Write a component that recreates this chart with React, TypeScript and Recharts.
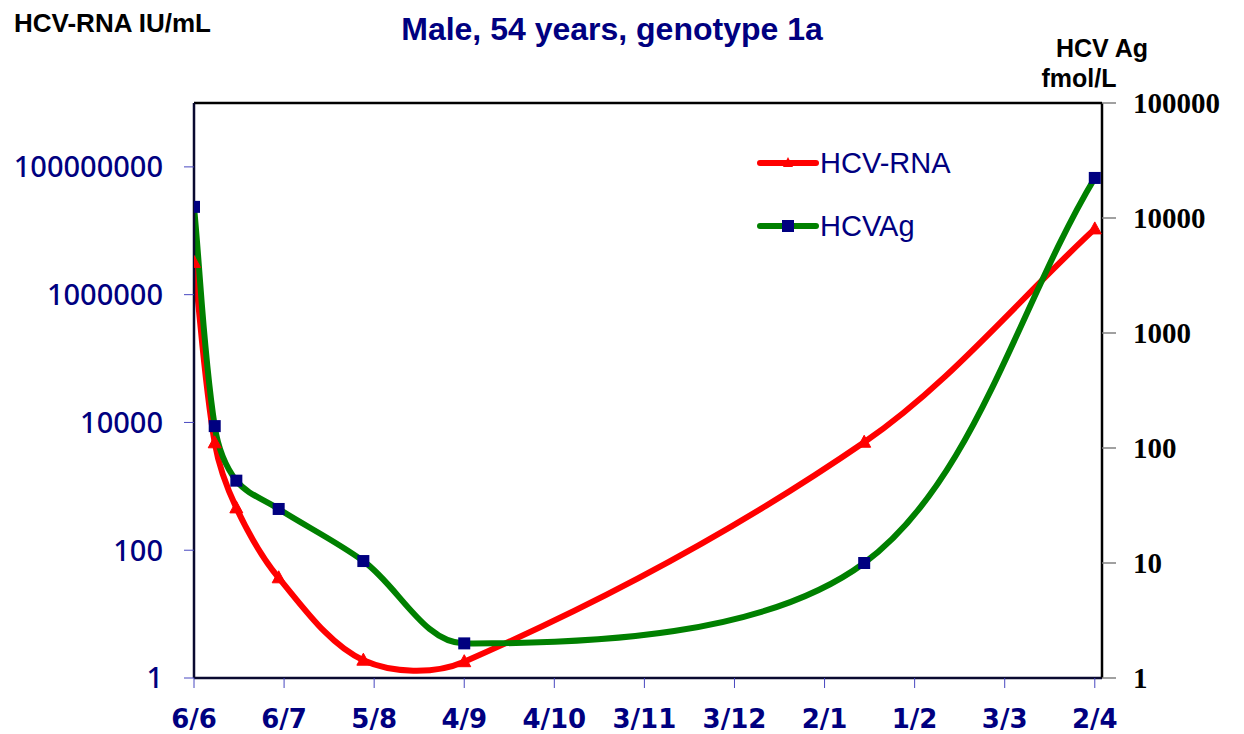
import React from 'react';
import { LineChart, Line, XAxis, YAxis, Legend, ReferenceLine } from 'recharts';

const xLabels = ['6/6', '6/7', '5/8', '4/9', '4/10', '3/11', '3/12', '2/1', '1/2', '3/3', '2/4'];
const xTicks = [0, 1, 2, 3, 4, 5, 6, 7, 8, 9, 10];
const sampleX = [0, 0.23, 0.47, 0.94, 1.88, 3, 7.44, 10];
const rnaValues = [3200000, 4800, 460, 37, 1.9, 1.8, 4900, 10700000];
const agValues = [12500, 155, 52, 29.5, 10.4, 2.0, 10, 22300];
const leftTicks = [1, 100, 10000, 1000000, 100000000];
const rightTicks = [1, 10, 100, 1000, 10000, 100000];

const data = sampleX.map((x, i) => ({ x, rna: rnaValues[i], ag: agValues[i] }));

const NAVY = '#000080';
const RED = '#ff0000';
const GREEN = '#008000';

// Excel-like smoothed curve (chord-length weighted Catmull-Rom Bezier)
const excelCurve: any = (context: any) => {
  let pts: number[][] = [];
  return {
    areaStart() {},
    areaEnd() {},
    lineStart() {
      pts = [];
    },
    point(x: number, y: number) {
      pts.push([+x, +y]);
    },
    lineEnd() {
      const n = pts.length;
      if (n === 0) return;
      context.moveTo(pts[0][0], pts[0][1]);
      if (n === 1) return;
      const d = (a: number[], b: number[]) => Math.hypot(b[0] - a[0], b[1] - a[1]);
      for (let i = 0; i < n - 1; i++) {
        const p0 = pts[Math.max(i - 1, 0)];
        const p1 = pts[i];
        const p2 = pts[i + 1];
        const p3 = pts[Math.min(i + 2, n - 1)];
        const d01 = d(p0, p1);
        const d12 = d(p1, p2);
        const d23 = d(p2, p3);
        const f1 = d01 + d12 > 0 ? d12 / (d01 + d12) / 3 : 0;
        const f2 = d12 + d23 > 0 ? d12 / (d12 + d23) / 3 : 0;
        const c1x = p1[0] + (p2[0] - p0[0]) * f1;
        const c1y = p1[1] + (p2[1] - p0[1]) * f1;
        const c2x = p2[0] - (p3[0] - p1[0]) * f2;
        const c2y = p2[1] - (p3[1] - p1[1]) * f2;
        context.bezierCurveTo(c1x, c1y, c2x, c2y, p2[0], p2[1]);
      }
    },
  };
};

const TriangleDot = (props: any) => {
  const { cx, cy, index } = props;
  if (cx == null || cy == null) return <g key={`t${index}`} />;
  return (
    <path
      key={`t${index}`}
      d={`M${cx},${cy - 7} L${cx + 6.5},${cy + 5} L${cx - 6.5},${cy + 5} Z`}
      fill={RED}
      stroke={RED}
      strokeWidth={1}
    />
  );
};

const SquareDot = (props: any) => {
  const { cx, cy, index } = props;
  if (cx == null || cy == null) return <g key={`s${index}`} />;
  return <rect key={`s${index}`} x={cx - 6} y={cy - 6} width={12} height={12} fill={NAVY} />;
};

const renderLegend = () => {
  const items = [
    { label: 'HCV-RNA', color: RED, marker: 'tri' },
    { label: 'HCVAg', color: GREEN, marker: 'sq' },
  ];
  return (
    <div style={{ display: 'flex', flexDirection: 'column' }}>
      {items.map((it, i) => (
        <div key={it.label} style={{ display: 'flex', alignItems: 'center', height: 40, marginBottom: i === 0 ? 23 : 0 }}>
          <svg width={64} height={40}>
            <line x1={4} y1={20} x2={60} y2={20} stroke={it.color} strokeWidth={6} strokeLinecap="round" />
            {it.marker === 'tri' ? (
              <path d="M32,14 L37,24 L27,24 Z" fill={RED} />
            ) : (
              <rect x={26} y={14} width={12} height={12} fill={NAVY} />
            )}
          </svg>
          <span style={{ fontFamily: '"Liberation Sans", Arial, sans-serif', fontSize: 29, color: NAVY, marginLeft: 0 }}>
            {it.label}
          </span>
        </div>
      ))}
    </div>
  );
};

export default function App() {
  return (
    <div style={{ position: 'absolute', left: 0, top: 0, width: 1244, height: 734, background: '#fff' }}>
      <LineChart
        width={1244}
        height={734}
        data={data}
        margin={{ top: 103, right: 0, bottom: 0, left: 0 }}
      >
        <XAxis
          dataKey="x"
          type="number"
          domain={[0, 10.08]}
          ticks={xTicks}
          interval={0}
          allowDataOverflow
          height={56}
          tickFormatter={(v: number) => xLabels[v] ?? ''}
          axisLine={{ stroke: '#0a0a30', strokeWidth: 2.5 }}
          tickLine={{ stroke: '#4848c0', strokeWidth: 1 }}
          tickSize={10}
          tickMargin={22}
          tick={{ fill: NAVY, fontFamily: '"DejaVu Sans", Verdana, sans-serif', fontWeight: 'bold', fontSize: 26 }}
        />
        <YAxis
          yAxisId="left"
          scale="log"
          domain={[1, 1000000000]}
          ticks={leftTicks}
          interval={0}
          allowDataOverflow
          width={194}
          tickFormatter={(v: number) => String(v)}
          axisLine={{ stroke: '#0a0a30', strokeWidth: 2.5 }}
          tickLine={{ stroke: '#4848c0', strokeWidth: 1 }}
          tickSize={10}
          tickMargin={21}
          tick={{ fill: NAVY, fontFamily: '"Noto Sans", Verdana, sans-serif', fontSize: 29, fontWeight: 500 }}
        />
        <YAxis
          yAxisId="right"
          orientation="right"
          scale="log"
          domain={[1, 100000]}
          ticks={rightTicks}
          interval={0}
          allowDataOverflow
          width={142}
          tickFormatter={(v: number) => String(v)}
          axisLine={{ stroke: '#000', strokeWidth: 2.5 }}
          tickLine={{ stroke: '#808080', strokeWidth: 1.5 }}
          tickSize={14}
          tickMargin={17}
          tick={{ fill: '#000', fontFamily: '"Liberation Serif", "Times New Roman", serif', fontWeight: 'bold', fontSize: 29 }}
        />
        <ReferenceLine yAxisId="left" y={1000000000} stroke="#000" strokeWidth={2.5} ifOverflow="visible" />
        <Legend
          verticalAlign="middle"
          align="center"
          layout="vertical"
          content={renderLegend}
          wrapperStyle={{ position: 'absolute', left: 756, top: 143, width: 240 }}
        />
        <Line
          yAxisId="left"
          dataKey="rna"
          name="HCV-RNA"
          type={excelCurve}
          stroke={RED}
          strokeWidth={6}
          dot={TriangleDot}
          activeDot={false}
          isAnimationActive={false}
        />
        <Line
          yAxisId="right"
          dataKey="ag"
          name="HCVAg"
          type={excelCurve}
          stroke={GREEN}
          strokeWidth={6}
          dot={SquareDot}
          activeDot={false}
          isAnimationActive={false}
        />
      </LineChart>
      <svg
        width={1244}
        height={734}
        style={{ position: 'absolute', left: 0, top: 0, pointerEvents: 'none' }}
      >
        <text x={14} y={32} fontFamily='"Liberation Sans", Arial, sans-serif' fontWeight="bold" fontSize={26} fill="#000">
          HCV-RNA IU/mL
        </text>
        <text x={612} y={40} textAnchor="middle" fontFamily='"Liberation Sans", Arial, sans-serif' fontWeight="bold" fontSize={32} fill={NAVY}>
          Male, 54 years, genotype 1a
        </text>
        <text x={1102} y={57} textAnchor="middle" fontFamily='"Liberation Sans", Arial, sans-serif' fontWeight="bold" fontSize={25} fill="#000">
          HCV Ag
        </text>
        <text x={1079} y={87} textAnchor="middle" fontFamily='"Liberation Sans", Arial, sans-serif' fontWeight="bold" fontSize={25} fill="#000">
          fmol/L
        </text>
      </svg>
    </div>
  );
}
